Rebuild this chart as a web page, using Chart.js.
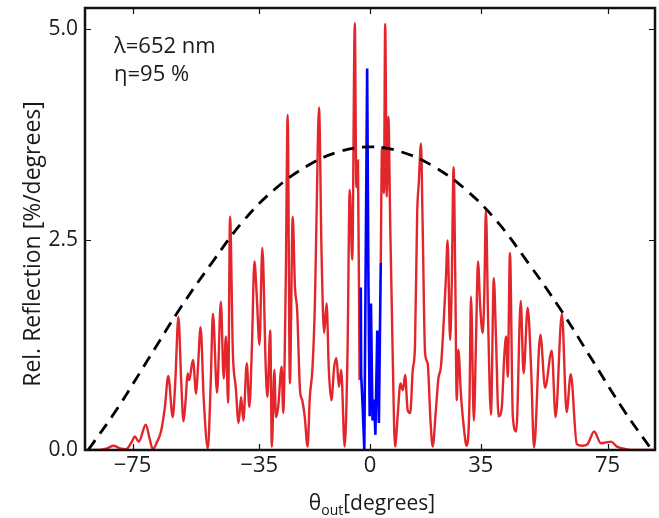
<!DOCTYPE html>
<html>
<head>
<meta charset="utf-8">
<script src="https://cdn.jsdelivr.net/npm/chart.js@4.4.1/dist/chart.umd.min.js"></script>
<style>
  html, body { margin: 0; padding: 0; background: #fff; }
</style>
</head>
<body>
<canvas id="reflChart" width="659" height="518"></canvas>
<script>
  'use strict';

  // red: simulated reflection, gap where the blue part sits
  var redAngle = [
    -89.5, -86, -83, -81, -79, -77, -75.2, -74.3, -73, -70.8, -69.5, -68.6, -67.2, -66, -64.8,
    -63.7, -62.3, -61.5, -60.5, -59.6, -58.9, -58.2, -57.6, -57.1, -55.9, -54.9, -54.3, -53.5,
    -52.5, -51.2, -50.3, -49.6, -48.3, -47.1, -46.2, -45.5, -44.8, -44.2, -43.3, -42.4, -41.5,
    -40.7, -40.0, -38.9, -38.1, -37.3, -36.5, -35.8, -34.9, -34.0, -32.9, -32.4, -31.5, -31.0,
    -30.2, -29.7, -29.0, -27.9, -27.4, -26.6, -26.0, -25.3, -24.4, -23.7, -23.0, -22.1, -21.4,
    -20.6, -19.7, -19.0, -18.2, -17.4, -16.9, -16.1, -15.3, -14.5, -13.7, -13.0, -12.2, -11.3,
    -10.6, -9.8, -9.1, -8.0, -7.1, -6.4, -5.6, -4.8, -4.3, -3.8, -3.3,
    0,
    3.4, 3.8, 4.4, 4.8, 5.3, 5.8, 6.4, 7.2, 7.9, 8.8, 9.6, 10.4, 11.1, 11.9, 12.7, 13.5, 14.2,
    14.9, 15.4, 16.1, 16.6, 17.4, 18.2, 19.1, 19.8, 20.8, 21.6, 22.4, 23.3, 24.0, 24.5, 25.3,
    25.8, 26.4, 26.9, 27.4, 27.9, 28.7, 29.6, 30.5, 31.4, 31.9, 32.8, 33.5, 34.1, 34.8, 35.6,
    36.1, 36.6, 37.3, 38.2, 39.1, 39.8, 40.6, 41.6, 42.4, 43.0, 43.5, 44.2, 45.1, 46.2, 47.6,
    48.5, 49.8, 50.9, 51.8, 53.8, 55.3, 57.4, 58.6, 60.6, 62.1, 63.4, 65.3, 67.1, 68.7, 70.8,
    72.9, 74.5, 76.1, 78, 79.7, 83, 89.5
  ];
  var redValue = [
    0, 0, 0.02, 0.05, 0.02, 0.01, 0.1, 0.16, 0.1, 0.3, 0.12, 0.01, 0.1, 0.22, 0.5,
    0.88, 0.39, 0.8, 1.58, 0.8, 0.34, 0.6, 0.91, 0.83, 1.07, 0.67, 1.0, 1.46,
    0.6, 0.02, 0.8, 1.62, 0.68, 1.76, 0.85, 1.35, 0.56, 2.77, 1.15, 0.75, 0.32,
    0.63, 0.35, 1.03, 0.51, 1.21, 2.24, 1.86, 1.25, 2.40, 0.95, 0.63, 1.42, 0.04,
    0.95, 0.39, 0.51, 0.99, 0.44, 2.02, 3.98, 0.79, 2.77, 1.94, 1.66, 0.71, 0.59,
    0.39, 0.04, 0.63, 0.95, 1.74, 2.73, 4.07, 2.34, 1.39, 1.74, 0.95, 0.59, 0.99,
    1.09, 0.75, 0.95, 0.04, 1.15, 3.09, 2.26, 5.07, 3.12, 3.44, 0.83,
    null,
    2.22, 3.6, 3.05, 5.06, 3.01, 3.96, 2.65, 1.07, 0.04, 0.44, 0.79, 0.71, 0.89, 0.47, 0.44, 0.95, 1.23,
    2.81, 3.17, 3.64, 2.73, 1.15, 1.03, 0.35, 0.04, 0.47, 0.85, 0.99, 1.54, 2.06, 2.49, 1.31,
    1.94, 3.36, 2.14, 0.59, 1.19, 0.67, 0.28, 0.05, 0.55, 1.82, 0.35, 1.35, 2.24, 1.7, 1.39,
    1.86, 2.85, 1.54, 0.42, 2.04, 1.31, 0.4, 0.5, 1.11, 1.35, 0.87, 2.34, 0.4, 0.22, 1.77,
    0.91, 1.69, 0.95, 0.03, 1.37, 0.74, 1.18, 0.39, 1.62, 0.45, 0.9, 0.07, 0.05, 0.07, 0.22,
    0.08, 0.09, 0.1, 0.04, 0.02, 0, 0
  ];

  // blue: central orders
  var blueAngle = [-2.9, -2.8, -2.3, -1.8, -1.4, -0.9, -0.5, -0.1, 0.3, 0.8, 1.3, 1.7, 2.3, 2.8, 3.4];
  var blueValue = [1.93, 0.9, 0.5, 0.0, 2.0, 4.53, 2.0, 0.4, 1.74, 0.35, 0.6, 0.18, 1.42, 0.32, 2.22];

  // dashed envelope
  var envelopeAngle = [-89, -80, -70, -60, -50, -40, -30, -20, -10, 0, 10, 20, 30, 40, 50, 60, 70, 80, 89];
  var envelopeValue = [0, 0.48, 1.08, 1.68, 2.22, 2.72, 3.1, 3.37, 3.54, 3.6, 3.54, 3.37, 3.1, 2.72, 2.22, 1.68, 1.08, 0.48, 0];

  var xTicks = [-75, -35, 0, 35, 75];
  var yTicks = [0, 2.5, 5];

  function toPoints(xs, ys) {
    return xs.map(function(x, i) { return { x: x, y: ys[i] }; });
  }

  function noEdgePadding(scale) {
    scale.paddingTop = 0;
    scale.paddingBottom = 0;
    scale.paddingLeft = 0;
    scale.paddingRight = 0;
  }

  var textColor = '#1a1a1a';
  var fontFamily = '"Open Sans", "DejaVu Sans", sans-serif';

  var framePlugin = {
    id: 'frame',
    afterDatasetsDraw: function(chart) {
      var ctx = chart.ctx;
      var a = chart.chartArea;
      var xs = chart.scales.x;
      var ys = chart.scales.y;
      ctx.save();
      ctx.strokeStyle = '#111';
      ctx.lineWidth = 1.2;
      ctx.beginPath();
      xTicks.forEach(function(t) {
        var px = Math.round(xs.getPixelForValue(t)) + 0.5;
        ctx.moveTo(px, a.bottom); ctx.lineTo(px, a.bottom - 6);
        ctx.moveTo(px, a.top); ctx.lineTo(px, a.top + 6);
      });
      yTicks.forEach(function(t) {
        var py = Math.round(ys.getPixelForValue(t)) + 0.5;
        ctx.moveTo(a.left, py); ctx.lineTo(a.left + 6, py);
        ctx.moveTo(a.right, py); ctx.lineTo(a.right - 6, py);
      });
      ctx.stroke();

      ctx.lineWidth = 2.5;
      ctx.strokeRect(a.left, a.top, a.right - a.left, a.bottom - a.top);

      // labels inside the plot
      ctx.fillStyle = textColor;
      ctx.font = '22px ' + fontFamily;
      ctx.textAlign = 'left';
      ctx.textBaseline = 'alphabetic';
      ctx.fillText('λ=652 nm', 114, 53);
      ctx.fillText('η=95 %', 114, 81);

      // x axis title with subscript
      var big = '21px ' + fontFamily;
      var small = '14px ' + fontFamily;
      ctx.font = big;
      var wTheta = ctx.measureText('θ').width;
      var wRest = ctx.measureText('[degrees]').width;
      ctx.font = small;
      var wSub = ctx.measureText('out').width;
      var startX = 372 - (wTheta + wSub + wRest) / 2;
      var base = 510;
      ctx.font = big;
      ctx.fillText('θ', startX, base);
      ctx.font = small;
      ctx.fillText('out', startX + wTheta, base + 5);
      ctx.font = big;
      ctx.fillText('[degrees]', startX + wTheta + wSub, base);

      // y axis title
      ctx.translate(33, 244);
      ctx.rotate(-Math.PI / 2);
      ctx.textAlign = 'center';
      ctx.textBaseline = 'middle';
      ctx.font = '23px ' + fontFamily;
      ctx.fillText('Rel. Reflection [%/degrees]', 0, 0);
      ctx.restore();
    }
  };

  var reflCanvas = document.getElementById('reflChart').getContext('2d');
  var reflChart = new Chart(reflCanvas, {
    type: 'line',
    data: {
      datasets: [{
        label: 'envelope',
        data: toPoints(envelopeAngle, envelopeValue),
        borderColor: '#000',
        borderWidth: 2.8,
        borderDash: [12, 8],
        pointRadius: 0,
        tension: 0.4,
        order: 0
      }, {
        label: 'blue',
        data: toPoints(blueAngle, blueValue),
        borderColor: '#0000ff',
        borderWidth: 2.6,
        pointRadius: 0,
        tension: 0,
        order: 1
      }, {
        label: 'red',
        data: toPoints(redAngle, redValue),
        borderColor: '#e3262b',
        borderWidth: 2.4,
        pointRadius: 0,
        cubicInterpolationMode: 'monotone',
        spanGaps: false,
        order: 2
      }]
    },
    options: {
      responsive: false,
      animation: false,
      layout: { padding: { top: 8, right: 4, left: 0, bottom: 0 } },
      plugins: {
        legend: { display: false },
        tooltip: { enabled: false }
      },
      scales: {
        x: {
          type: 'linear',
          min: -90,
          max: 90,
          grid: { display: false, drawTicks: false },
          border: { display: false },
          afterBuildTicks: function(scale) {
            scale.ticks = xTicks.map(function(v) { return { value: v }; });
          },
          afterFit: function(scale) { scale.height = 68; noEdgePadding(scale); },
          ticks: {
            padding: 3,
            color: textColor,
            font: { family: fontFamily, size: 22 },
            maxRotation: 0,
            callback: function(v) { return v < 0 ? '\u2212' + Math.abs(v) : String(v); }
          }
        },
        y: {
          type: 'linear',
          min: 0,
          max: 5.25,
          grid: { display: false, drawTicks: false },
          border: { display: false },
          afterBuildTicks: function(scale) {
            scale.ticks = yTicks.map(function(v) { return { value: v }; });
          },
          afterFit: function(scale) { scale.width = 85; noEdgePadding(scale); },
          ticks: {
            padding: 7,
            color: textColor,
            font: { family: fontFamily, size: 21 },
            callback: function(v) { return Number(v).toFixed(1); }
          }
        }
      }
    },
    plugins: [framePlugin]
  });
</script>
</body>
</html>
